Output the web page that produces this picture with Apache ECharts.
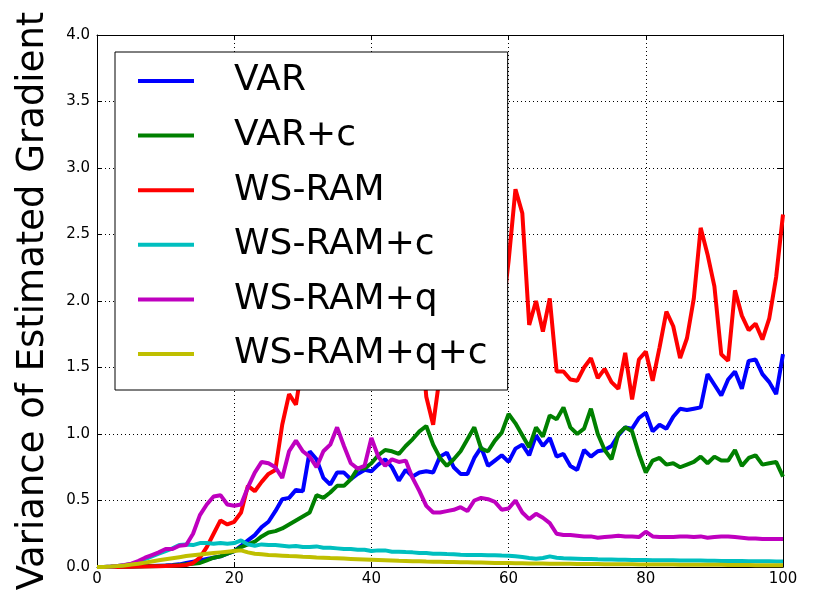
<!DOCTYPE html>
<html>
<head>
<meta charset="utf-8">
<script src="https://cdn.jsdelivr.net/npm/echarts@6/dist/echarts.min.js"></script>
<style>
html,body{margin:0;padding:0;background:#fff;}
#chart{width:821px;height:592px;}
</style>
</head>
<body>
<div id="chart"></div>
<script>
const steps = [0,1,2,3,4,5,6,7,8,9,10,11,12,13,14,15,16,17,18,19,20,21,22,23,24,25,26,27,28,29,30,31,32,33,34,35,36,37,38,39,40,41,42,43,44,45,46,47,48,49,50,51,52,53,54,55,56,57,58,59,60,61,62,63,64,65,66,67,68,69,70,71,72,73,74,75,76,77,78,79,80,81,82,83,84,85,86,87,88,89,90,91,92,93,94,95,96,97,98,99,100];

const seriesNames = ['VAR', 'VAR+c', 'WS-RAM', 'WS-RAM+c', 'WS-RAM+q', 'WS-RAM+q+c'];

const varValues = [0,0,0,0.002,0.003,0.004,0.005,0.007,0.008,0.01,0.012,0.015,0.02,0.03,0.04,0.05,0.06,0.07,0.08,0.10,
0.12,0.16,0.20,0.24,0.30,0.34,0.42,0.51,0.52,0.58,0.57,0.87,0.81,0.67,0.62,0.71,0.71,0.66,0.70,0.73,
0.72,0.77,0.81,0.75,0.65,0.73,0.68,0.71,0.72,0.71,0.83,0.86,0.75,0.70,0.70,0.82,0.90,0.76,0.80,0.84,
0.79,0.89,0.92,0.84,0.99,0.91,0.97,0.83,0.85,0.76,0.73,0.88,0.83,0.87,0.88,0.91,0.99,1.05,1.04,1.12,
1.16,1.02,1.07,1.04,1.13,1.19,1.18,1.19,1.20,1.45,1.37,1.29,1.41,1.47,1.34,1.55,1.56,1.45,1.39,1.30,1.60];

const varCValues = [0,0,0,0.001,0.002,0.003,0.004,0.005,0.006,0.008,0.01,0.012,0.015,0.02,0.025,0.03,0.05,0.07,0.08,0.10,
0.12,0.15,0.17,0.19,0.23,0.26,0.27,0.29,0.32,0.35,0.38,0.41,0.54,0.52,0.56,0.61,0.61,0.66,0.74,0.74,
0.78,0.84,0.88,0.87,0.85,0.91,0.96,1.02,1.06,0.92,0.82,0.76,0.81,0.87,0.96,1.05,0.89,0.87,0.95,1.01,
1.15,1.08,0.99,0.90,1.05,0.98,1.14,1.11,1.20,1.05,1.00,1.04,1.19,1.00,0.88,0.81,1.00,1.05,1.02,0.85,
0.71,0.80,0.82,0.77,0.78,0.75,0.77,0.79,0.83,0.78,0.83,0.80,0.80,0.88,0.76,0.82,0.84,0.77,0.78,0.79,0.68];

const wsRamValues = [0,0,0,0,0.001,0.002,0.003,0.004,0.005,0.006,0.008,0.01,0.012,0.015,0.03,0.07,0.15,0.25,0.35,0.32,
0.34,0.41,0.61,0.57,0.64,0.70,0.73,1.07,1.30,1.22,1.55,1.75,1.90,1.80,2.00,2.20,1.95,2.10,2.30,2.05,
2.20,2.40,2.15,2.00,2.25,2.10,2.00,1.90,1.28,1.07,1.45,1.90,2.20,2.00,2.30,2.10,2.40,2.20,2.00,1.85,
2.30,2.84,2.66,1.82,2.00,1.77,2.02,1.47,1.47,1.41,1.40,1.50,1.57,1.42,1.49,1.39,1.34,1.61,1.26,1.56,
1.62,1.40,1.65,1.92,1.81,1.57,1.72,2.02,2.55,2.35,2.11,1.60,1.55,2.08,1.89,1.78,1.83,1.71,1.87,2.18,2.65];

const wsRamCValues = [0,0,0.003,0.008,0.014,0.022,0.035,0.06,0.08,0.10,0.12,0.14,0.165,0.17,0.165,0.18,0.18,0.175,0.18,0.175,
0.18,0.20,0.17,0.16,0.17,0.165,0.165,0.16,0.155,0.158,0.15,0.15,0.155,0.145,0.145,0.14,0.135,0.135,0.13,0.13,
0.12,0.125,0.125,0.115,0.115,0.112,0.11,0.105,0.105,0.10,0.10,0.097,0.095,0.092,0.09,0.09,0.09,0.088,0.088,0.086,
0.085,0.08,0.075,0.068,0.062,0.068,0.08,0.07,0.066,0.064,0.062,0.06,0.06,0.058,0.057,0.056,0.055,0.054,0.053,0.052,
0.052,0.051,0.05,0.05,0.05,0.049,0.049,0.048,0.048,0.047,0.047,0.046,0.046,0.045,0.045,0.044,0.044,0.043,0.043,0.042,0.042];

const wsRamQValues = [0,0,0.003,0.008,0.015,0.025,0.045,0.07,0.09,0.11,0.135,0.135,0.16,0.165,0.25,0.39,0.47,0.53,0.54,0.47,
0.46,0.47,0.60,0.71,0.79,0.78,0.75,0.67,0.87,0.95,0.87,0.83,0.75,0.87,0.92,1.05,0.91,0.78,0.74,0.76,
0.97,0.83,0.76,0.81,0.79,0.80,0.67,0.57,0.46,0.41,0.41,0.42,0.43,0.45,0.42,0.50,0.52,0.51,0.49,0.43,
0.44,0.50,0.41,0.36,0.40,0.37,0.33,0.25,0.24,0.24,0.235,0.23,0.23,0.22,0.225,0.23,0.235,0.23,0.23,0.225,
0.265,0.23,0.225,0.225,0.225,0.23,0.23,0.225,0.23,0.22,0.225,0.23,0.23,0.225,0.22,0.215,0.215,0.21,0.21,0.21,0.21];

const wsRamQCValues = [0,0,0.003,0.007,0.012,0.018,0.025,0.033,0.042,0.05,0.058,0.066,0.074,0.082,0.088,0.094,0.10,0.105,0.11,0.115,
0.12,0.125,0.11,0.10,0.095,0.09,0.088,0.085,0.082,0.08,0.077,0.075,0.072,0.07,0.067,0.065,0.063,0.061,0.059,0.057,
0.055,0.053,0.051,0.049,0.047,0.046,0.044,0.043,0.041,0.04,0.039,0.038,0.037,0.036,0.035,0.034,0.033,0.032,0.031,0.03,
0.03,0.029,0.028,0.027,0.027,0.026,0.025,0.025,0.024,0.024,0.023,0.023,0.022,0.022,0.021,0.021,0.02,0.02,0.02,0.019,
0.019,0.019,0.018,0.018,0.018,0.017,0.017,0.017,0.016,0.016,0.016,0.016,0.015,0.015,0.015,0.015,0.014,0.014,0.014,0.014,0.014];

const xTicks = [0, 20, 40, 60, 80, 100];
const yTicks = [0.0, 0.5, 1.0, 1.5, 2.0, 2.5, 3.0, 3.5, 4.0];

const allValues = [varValues, varCValues, wsRamValues, wsRamCValues, wsRamQValues, wsRamQCValues];
const colors = ['#0000ff', '#008000', '#ff0000', '#00bfbf', '#bf00bf', '#bfbf00'];

const FONT = 'DejaVu Sans';
const chart = echarts.init(document.getElementById('chart'), null, {renderer: 'canvas'});

const baseAxis = {
  type: 'value',
  axisLine: {show: true, onZero: false, lineStyle: {color: '#000', width: 1}},
  axisTick: {show: true, inside: true, length: 5, lineStyle: {color: '#000', width: 1}},
  splitLine: {show: false}
};

const option = {
  animation: false,
  backgroundColor: '#fff',
  grid: {left: 97, top: 35, width: 686, height: 532, outerBoundsMode: 'none', containLabel: false},
  xAxis: [
    Object.assign({}, baseAxis, {
      position: 'bottom', min: xTicks[0], max: xTicks[xTicks.length - 1], interval: 20,
      axisLabel: {color: '#000', fontSize: 15, fontFamily: FONT, margin: 5},
      splitLine: {show: true, lineStyle: {color: '#000', width: 1, type: [1, 3]}}
    }),
    Object.assign({}, baseAxis, {
      position: 'top', min: xTicks[0], max: xTicks[xTicks.length - 1], interval: 20,
      axisLabel: {show: false}
    })
  ],
  yAxis: [
    Object.assign({}, baseAxis, {
      position: 'left', min: yTicks[0], max: yTicks[yTicks.length - 1], interval: 0.5,
      axisLabel: {color: '#000', fontSize: 15, fontFamily: FONT, margin: 7,
        formatter: v => v.toFixed(1)},
      splitLine: {show: true, lineStyle: {color: '#000', width: 1, type: [1, 3]}},
      name: 'Variance of Estimated Gradient',
      nameLocation: 'middle',
      nameGap: 45,
      nameTextStyle: {color: '#000', fontSize: 37, fontFamily: FONT}
    }),
    Object.assign({}, baseAxis, {
      position: 'right', min: yTicks[0], max: yTicks[yTicks.length - 1], interval: 0.5,
      axisLabel: {show: false}
    })
  ],
  legend: {
    orient: 'vertical',
    left: 115, top: 52,
    padding: [11, 20, 18, 23],
    itemWidth: 56, itemHeight: 4, itemGap: 18.6,
    icon: 'rect',
    selectedMode: false,
    backgroundColor: '#fff',
    borderColor: '#000', borderWidth: 1, borderRadius: 0,
    textStyle: {fontSize: 36, fontFamily: FONT, color: '#000', lineHeight: 36, padding: [0, 0, 0, 35]},
    z: 10,
    data: seriesNames
  },
  series: seriesNames.map((name, i) => ({
    name: name,
    type: 'line',
    xAxisIndex: 0, yAxisIndex: 0,
    data: steps.map((s, j) => [s, allValues[i][j]]),
    showSymbol: false, symbol: 'none',
    color: colors[i],
    lineStyle: {color: colors[i], width: 4},
    clip: true,
    z: 2 + i * 0.01
  }))
};
chart.setOption(option);
</script>
</body>
</html>
